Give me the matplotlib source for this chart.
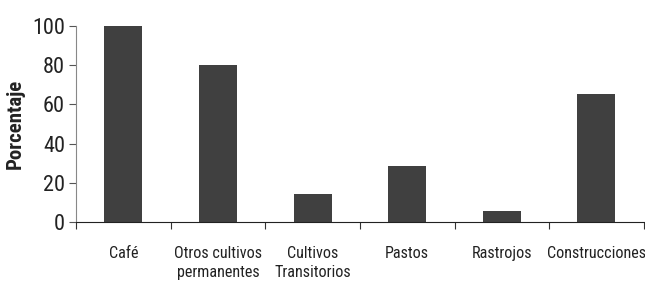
import matplotlib.pyplot as plt
import numpy as np

categorias = ['Café', 'Otros cultivos\npermanentes', 'Cultivos\nTransitorios',
              'Pastos', 'Rastrojos', 'Construcciones']
porcentajes = [100, 80, 14.3, 28.5, 5.6, 65.5]
yticks = [0, 20, 40, 60, 80, 100]

plt.rcParams['font.family'] = ['Roboto Condensed', 'Liberation Sans', 'DejaVu Sans']

fig = plt.figure(figsize=(6.45, 2.85), dpi=100)
ax = fig.add_axes([0.118, 0.221, 0.880, 0.688])

x = np.arange(len(categorias))
ax.bar(x, porcentajes, width=0.4, color='#404040')

ax.set_xlim(-0.5, len(categorias) - 0.5)
ax.set_ylim(0, 100)
ax.set_yticks(yticks)
ax.tick_params(axis='y', labelsize=16, length=5, width=0.8, pad=3,
               color='#555555', labelcolor='#222222')

# etiquetas en el centro, marcas entre categorías
ax.set_xticks(x)
ax.set_xticklabels(categorias, fontsize=11.6, linespacing=1.4, va='top', color='#222222')
ax.tick_params(axis='x', which='major', length=0, pad=17)
ax.set_xticks(np.arange(-0.5, len(categorias)), minor=True)
ax.tick_params(axis='x', which='minor', length=5, width=0.8, color='#333333')

ax.spines['top'].set_visible(False)
ax.spines['right'].set_visible(False)
ax.spines['left'].set_color('#888888')
ax.spines['bottom'].set_color('#222222')

ax.set_ylabel('Porcentaje', fontsize=15, fontweight='bold', labelpad=5, color='#222222')

fig.savefig('out.png', dpi=100)
